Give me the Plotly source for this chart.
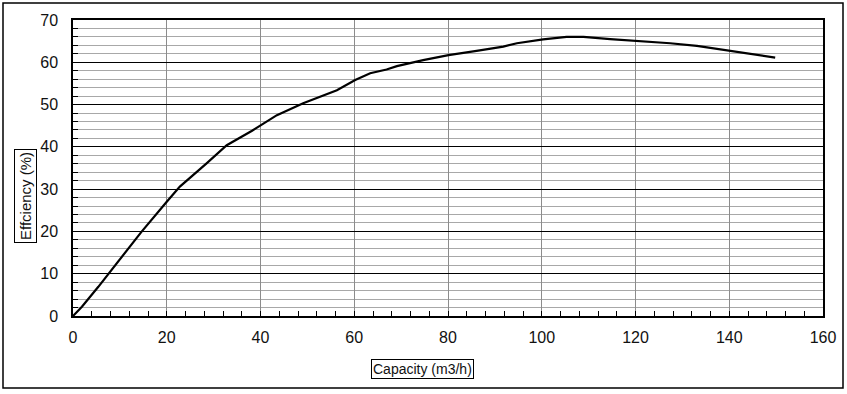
import plotly.graph_objects as go

capacity = [0, 1.9, 5.4, 7.9, 14.6, 20.0, 22.8, 28.5, 32.8, 38.2, 43.5, 49.1, 56.3,
            60.2, 63.4, 66.9, 69.1, 74.7, 80.1, 86.1, 91.8, 94.7, 100.3, 105.3,
            108.9, 114.6, 119.9, 121.7, 127.4, 133.1, 136.6, 140.2, 145.9, 149.8]
efficiency = [0, 2.2, 6.9, 10.5, 19.9, 27.0, 30.6, 36.1, 40.4, 43.8, 47.5, 50.3, 53.4,
              55.8, 57.4, 58.3, 59.1, 60.5, 61.7, 62.7, 63.7, 64.5, 65.4, 66.0,
              66.0, 65.5, 65.1, 64.9, 64.5, 63.9, 63.3, 62.7, 61.8, 61.1]

x_title = "Capacity (m3/h)"
y_title = "Effciency (%)"

FONT = "Liberation Sans, Arial, sans-serif"

fig = go.Figure()
fig.add_trace(go.Scatter(x=capacity, y=efficiency, mode="lines",
                         line=dict(color="black", width=2.2), showlegend=False,
                         hoverinfo="skip"))

L, R, T, B = 73, 24, 20, 78
W, H = 847, 394
pw, ph = W - L - R, H - T - B

fig.update_layout(
    width=W, height=H,
    margin=dict(l=L, r=R, t=T, b=B, pad=0, autoexpand=False),
    paper_bgcolor="white", plot_bgcolor="white",
    font=dict(family=FONT, size=15, color="#111"),
)
fig.update_xaxes(
    range=[0, 160], dtick=20, tick0=0, automargin=False,
    showgrid=True, gridcolor="#8c8c8c", gridwidth=1,
    showline=True, linecolor="black", linewidth=1.5, mirror=True,
    ticks="inside", ticklen=5, tickcolor="black",
    minor=dict(dtick=4, ticks="inside", ticklen=5, tickcolor="black", showgrid=False),
    zeroline=False, ticklabelstandoff=6,
    tickfont=dict(family=FONT, size=16, color="#111"),
)
fig.update_yaxes(
    range=[0, 70], dtick=10, tick0=0, automargin=False,
    showgrid=True, gridcolor="black", gridwidth=1,
    showline=True, linecolor="black", linewidth=1.5, mirror=True,
    ticks="inside", ticklen=5, tickcolor="black",
    minor=dict(dtick=2, ticks="inside", ticklen=5, tickcolor="black",
               showgrid=True, gridcolor="#a8a8a8", gridwidth=1),
    zeroline=False, ticklabelstandoff=10,
    tickfont=dict(family=FONT, size=16, color="#111"),
)

def px_x(p):
    return (p - L) / pw

def px_y(p):
    return (H - B - p) / ph

# outer frame
fig.add_shape(type="rect", xref="paper", yref="paper",
              x0=px_x(3), x1=px_x(843), y0=px_y(388), y1=px_y(3),
              line=dict(color="black", width=1.5), fillcolor="rgba(0,0,0,0)", layer="above")

fig.add_annotation(text=x_title, xref="paper", yref="paper",
                   x=px_x(422), y=px_y(369), xanchor="center", yanchor="middle",
                   showarrow=False,
                   font=dict(family=FONT, size=14, color="#111"),
                   bordercolor="black", borderwidth=1, borderpad=1, bgcolor="white")
fig.add_annotation(text=y_title, xref="paper", yref="paper",
                   x=px_x(26), y=px_y(196), xanchor="center", yanchor="middle",
                   showarrow=False, textangle=-90,
                   font=dict(family=FONT, size=15, color="#111"),
                   bordercolor="black", borderwidth=1, borderpad=2, bgcolor="white")

fig.write_html("out.html", config={"displayModeBar": False},
               post_script="document.body.style.margin='0';document.body.style.overflow='hidden';")
